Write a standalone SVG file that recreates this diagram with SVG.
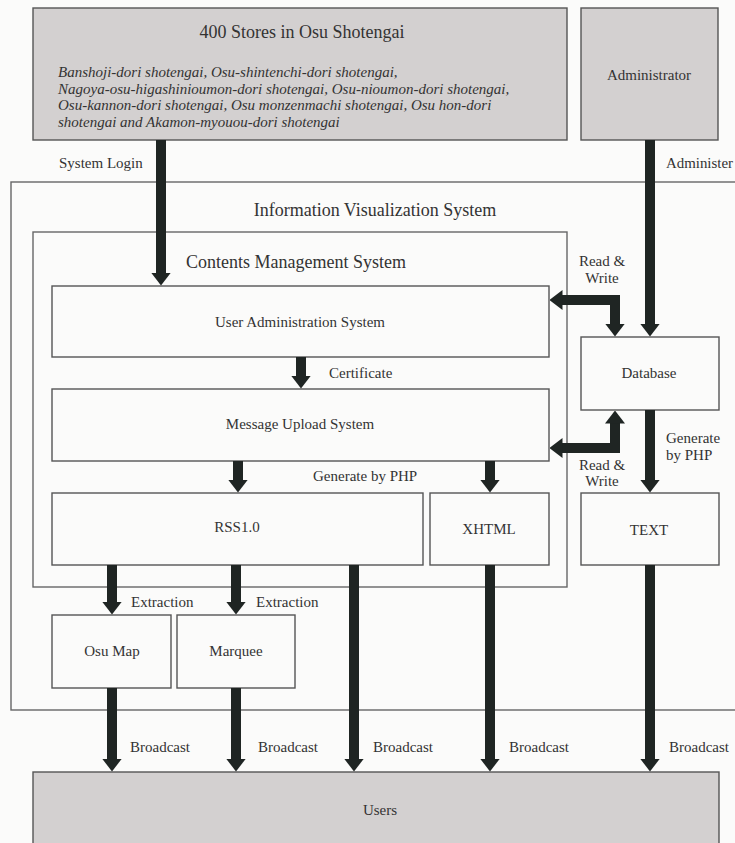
<svg xmlns="http://www.w3.org/2000/svg" width="735" height="843" viewBox="0 0 735 843">
<style>
text{font-family:"Liberation Serif","Times New Roman",serif;fill:#333;}
.t15{font-size:15px;}
.t18{font-size:18px;}
.it{font-size:15px;font-style:italic;}
.c{text-anchor:middle;}
.gray{fill:#d3d0d0;stroke:#555;stroke-width:1.4;}
.box{fill:#fbfbfa;stroke:#555;stroke-width:1.4;}
.frame{fill:none;stroke:#666;stroke-width:1.4;}
.arr{fill:none;stroke:#1f2523;stroke-width:10;stroke-linejoin:miter;marker-end:url(#head);}
.arr2{fill:none;stroke:#1f2523;stroke-width:10;stroke-linejoin:miter;marker-start:url(#head);marker-end:url(#head);}
</style>
<defs>
<marker id="head" viewBox="0 0 13 20" refX="0.5" refY="10" markerWidth="13" markerHeight="20" markerUnits="userSpaceOnUse" orient="auto-start-reverse">
<path d="M0,0 L13,10 L0,20 Z" fill="#1f2523"/>
</marker>
</defs>
<rect x="0" y="0" width="735" height="843" fill="#fbfbfa"/>

<g id="frame-ivs">
<rect class="frame" x="11" y="182" width="740" height="528"/>
<text class="t18 c" x="375" y="216">Information Visualization System</text>
</g>
<g id="frame-cms">
<rect class="frame" x="33" y="232" width="534" height="355"/>
<text class="t18 c" x="296" y="268">Contents Management System</text>
</g>

<g id="stores">
<rect class="gray" x="33" y="8" width="534" height="132"/>
<text class="t18 c" x="302" y="38">400 Stores in Osu Shotengai</text>
<text class="it" x="58" y="77">Banshoji-dori shotengai, Osu-shintenchi-dori shotengai,</text>
<text class="it" x="58" y="94">Nagoya-osu-higashinioumon-dori shotengai, Osu-nioumon-dori shotengai,</text>
<text class="it" x="58" y="110">Osu-kannon-dori shotengai, Osu monzenmachi shotengai, Osu hon-dori</text>
<text class="it" x="58" y="127">shotengai and Akamon-myouou-dori shotengai</text>
</g>
<g id="administrator">
<rect class="gray" x="581" y="8" width="137" height="132"/>
<text class="t15 c" x="649" y="80">Administrator</text>
</g>
<g id="user-admin">
<rect class="box" x="52" y="286" width="497" height="71"/>
<text class="t15 c" x="300" y="327">User Administration System</text>
</g>
<g id="message-upload">
<rect class="box" x="52" y="389" width="497" height="72"/>
<text class="t15 c" x="300" y="429">Message Upload System</text>
</g>
<g id="rss">
<rect class="box" x="52" y="493" width="371" height="72"/>
<text class="t15 c" x="237" y="532">RSS1.0</text>
</g>
<g id="xhtml">
<rect class="box" x="430" y="493" width="119" height="72"/>
<text class="t15 c" x="489" y="534">XHTML</text>
</g>
<g id="database">
<rect class="box" x="581" y="337" width="138" height="73"/>
<text class="t15 c" x="649" y="378">Database</text>
</g>
<g id="text">
<rect class="box" x="581" y="493" width="138" height="72"/>
<text class="t15 c" x="649" y="535">TEXT</text>
</g>
<g id="osu-map">
<rect class="box" x="52" y="615" width="119" height="73"/>
<text class="t15 c" x="112" y="656">Osu Map</text>
</g>
<g id="marquee">
<rect class="box" x="177" y="615" width="118" height="73"/>
<text class="t15 c" x="236" y="656">Marquee</text>
</g>
<g id="users">
<rect class="gray" x="33" y="772" width="686" height="80"/>
<text class="t15 c" x="380" y="815">Users</text>
</g>

<g id="connectors">
<path class="arr" d="M161,140 V273"/>
<path class="arr" d="M650,140 V324"/>
<path class="arr" d="M301,357 V376"/>
<path class="arr" d="M238,461 V480"/>
<path class="arr" d="M490,461 V480"/>
<path class="arr" d="M650,410 V480"/>
<path class="arr" d="M112,565 V602"/>
<path class="arr" d="M236,565 V602"/>
<path class="arr" d="M354,565 V759"/>
<path class="arr" d="M490,565 V759"/>
<path class="arr" d="M650,565 V759"/>
<path class="arr" d="M112,688 V759"/>
<path class="arr" d="M236,688 V759"/>
<path class="arr2" d="M562,300 H615 V324"/>
<path class="arr2" d="M615,423 V448 H562"/>

<text class="t15" x="59" y="168">System Login</text>
<text class="t15" x="666" y="168" textLength="67" lengthAdjust="spacingAndGlyphs">Administer</text>
<text class="t15" x="329" y="378">Certificate</text>
<text class="t15" x="313" y="481">Generate by PHP</text>
<text class="t15 c" x="602" y="266">Read &amp;</text>
<text class="t15 c" x="602" y="283">Write</text>
<text class="t15 c" x="602" y="470">Read &amp;</text>
<text class="t15 c" x="602" y="486">Write</text>
<text class="t15" x="666" y="443">Generate</text>
<text class="t15" x="666" y="460">by PHP</text>
<text class="t15" x="131" y="607">Extraction</text>
<text class="t15" x="256" y="607">Extraction</text>
<text class="t15" x="130" y="752">Broadcast</text>
<text class="t15" x="258" y="752">Broadcast</text>
<text class="t15" x="373" y="752">Broadcast</text>
<text class="t15" x="509" y="752">Broadcast</text>
<text class="t15" x="669" y="752">Broadcast</text>
</g>
</svg>
